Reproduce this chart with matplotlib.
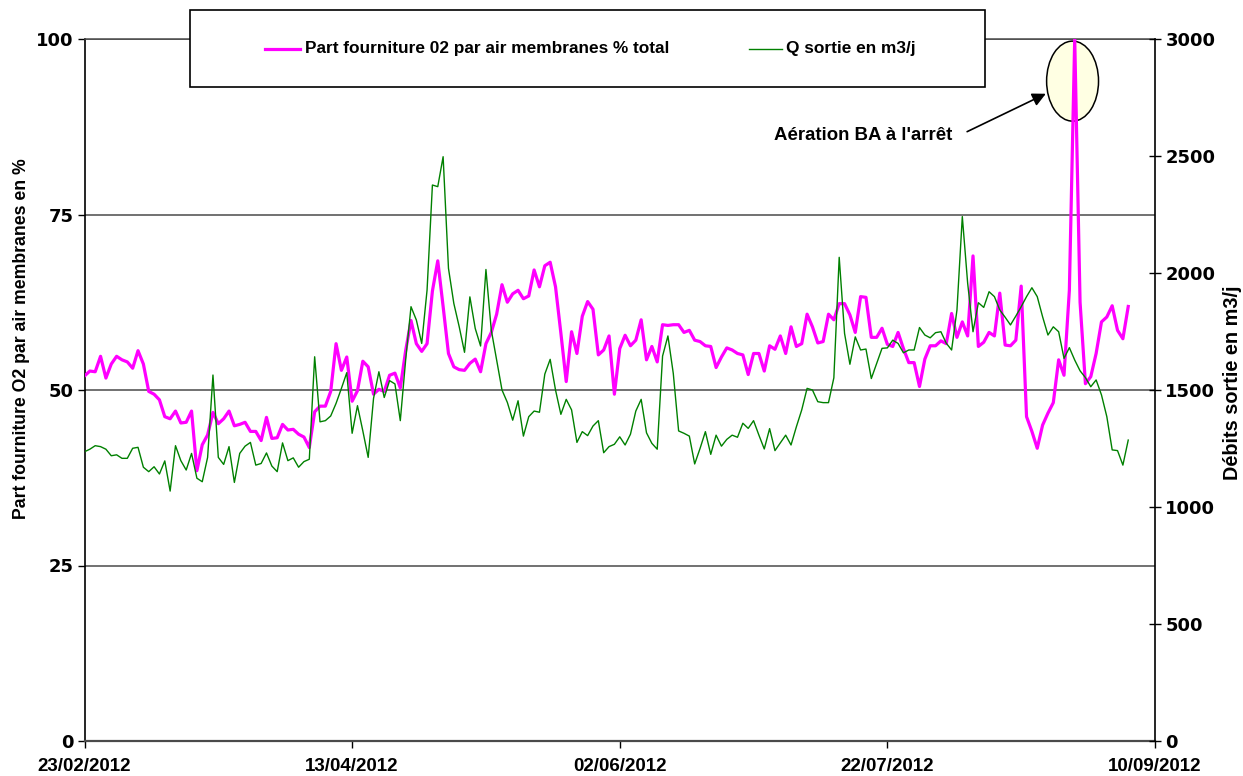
import matplotlib
matplotlib.use('Agg')
import matplotlib.pyplot as plt
import matplotlib.dates as mdates
from matplotlib.patches import Ellipse, Rectangle
from matplotlib.lines import Line2D
import pandas as pd

# ---------------- data ----------------
start_date = '2012-02-23'

part_o2 = [
    52.0, 52.7, 52.6, 54.8, 51.7, 53.7, 54.8, 54.3, 54.0, 53.1,
    55.6, 53.7, 49.8, 49.4, 48.6, 46.2, 45.9, 47.0, 45.3, 45.4,
    47.0, 38.5, 42.2, 43.6, 46.8, 45.2, 45.9, 47.0, 44.9, 45.1,
    45.4, 44.1, 44.1, 42.8, 46.1, 43.1, 43.2, 45.1, 44.3, 44.4,
    43.7, 43.3, 41.8, 46.9, 47.7, 47.7, 49.8, 56.6, 52.8, 54.7,
    48.4, 49.9, 54.1, 53.3, 49.4, 50.1, 49.8, 52.1, 52.4, 50.3,
    55.6, 59.9, 56.6, 55.5, 56.6, 64.1, 68.4, 61.9, 55.2, 53.3,
    52.9, 52.8, 53.8, 54.4, 52.6, 56.6, 58.2, 60.8, 65.0, 62.5,
    63.7, 64.2, 63.0, 63.4, 67.1, 64.7, 67.7, 68.2, 64.7, 58.1,
    51.2, 58.3, 55.2, 60.5, 62.6, 61.5, 55.0, 55.7, 57.7, 49.4,
    55.9, 57.8, 56.3, 57.1, 60.0, 54.3, 56.2, 54.0, 59.3, 59.2,
    59.3, 59.3, 58.2, 58.5, 57.1, 56.9, 56.3, 56.2, 53.2, 54.7,
    56.0, 55.7, 55.2, 55.0, 52.2, 55.2, 55.2, 52.7, 56.3, 55.8,
    57.7, 55.2, 59.0, 56.2, 56.6, 60.8, 59.0, 56.7, 56.9, 60.8,
    60.0, 62.3, 62.3, 60.7, 58.2, 63.3, 63.2, 57.5, 57.5, 58.8,
    56.5, 56.2, 58.2, 55.9, 53.9, 53.9, 50.5, 54.4, 56.3, 56.3,
    57.0, 56.6, 60.9, 57.5, 59.7, 57.7, 69.1, 56.2, 56.8, 58.2,
    57.7, 63.8, 56.4, 56.3, 57.1, 64.8, 46.2, 44.1, 41.7, 45.0,
    46.7, 48.2, 54.3, 52.1, 64.2, 100.0, 62.5, 50.9, 51.9, 55.2,
    59.7, 60.4, 62.0, 58.5, 57.3, 61.9,
]

q_sortie = [
    1236, 1247, 1262, 1258, 1247, 1219, 1223, 1208, 1208, 1251,
    1255, 1170, 1151, 1172, 1141, 1197, 1068, 1262, 1198, 1158,
    1229, 1123, 1108, 1212, 1564, 1212, 1182, 1258, 1105, 1229,
    1260, 1276, 1179, 1186, 1231, 1175, 1151, 1274, 1198, 1210,
    1170, 1194, 1204, 1642, 1364, 1369, 1389, 1443, 1507, 1574,
    1315, 1433, 1325, 1212, 1464, 1578, 1468, 1540, 1526, 1369,
    1628, 1856, 1799, 1699, 1927, 2376, 2369, 2497, 2020, 1870,
    1771, 1661, 1898, 1763, 1688, 2015, 1756, 1628, 1500, 1447,
    1371, 1454, 1303, 1386, 1410, 1405, 1568, 1631, 1500, 1396,
    1460, 1415, 1276, 1322, 1305, 1346, 1369, 1232, 1258, 1268,
    1300, 1265, 1311, 1410, 1460, 1317, 1272, 1247, 1645, 1731,
    1571, 1325, 1315, 1303, 1184, 1250, 1322, 1225, 1307, 1260,
    1289, 1307, 1298, 1358, 1336, 1369, 1307, 1248, 1335, 1241,
    1274, 1307, 1265, 1343, 1415, 1507, 1500, 1450, 1446, 1446,
    1552, 2067, 1742, 1610, 1727, 1671, 1675, 1549, 1613, 1678,
    1680, 1713, 1699, 1659, 1671, 1671, 1767, 1735, 1723, 1745,
    1749, 1700, 1671, 1842, 2241, 1956, 1749, 1873, 1853, 1920,
    1899, 1842, 1811, 1778, 1816, 1856, 1899, 1937, 1899, 1813,
    1735, 1770, 1749, 1635, 1681, 1628, 1582, 1553, 1514, 1543,
    1479, 1386, 1244, 1241, 1179, 1286,
]

tick_dates = ['2012-02-23', '2012-04-13', '2012-06-02', '2012-07-22', '2012-09-10']
left_ticks = [0, 25, 50, 75, 100]
right_ticks = [0, 500, 1000, 1500, 2000, 2500, 3000]

label_pink = 'Part fourniture 02 par air membranes % total'
label_green = 'Q sortie en m3/j'
ylabel_left = 'Part fourniture O2 par air membranes en %'
ylabel_right = 'Débits sortie en m3/j'
note_text = "Aération BA à l'arrêt"

dates = pd.date_range(start_date, periods=len(part_o2), freq='D')
tdates = pd.to_datetime(tick_dates)

# ---------------- figure ----------------
W, H = 1243, 776
fig = plt.figure(figsize=(W / 100, H / 100), dpi=100)
L, R, T, B = 84.5, 1155, 39, 741
ax = fig.add_axes([L / W, 1 - B / H, (R - L) / W, (B - T) / H])
ax2 = ax.twinx()

PINK = '#FF00FF'
GREEN = '#008000'
GRID = '#4a4a4a'

sans = ['Liberation Sans', 'DejaVu Sans']

ax.plot(dates, part_o2, color=PINK, lw=2.3, zorder=3, solid_joinstyle='round')
ax2.plot(dates, q_sortie, color=GREEN, lw=1.0, zorder=3)

ax.set_xlim(tdates[0], tdates[-1])
ax.set_ylim(0, 100)
ax2.set_ylim(0, 3000)

ax.set_yticks(left_ticks)
ax2.set_yticks(right_ticks)
ax.set_xticks(tdates)
ax.xaxis.set_major_formatter(mdates.DateFormatter('%d/%m/%Y'))

ax.yaxis.grid(True, color=GRID, lw=1.1)
ax.set_axisbelow(True)

ax.spines['left'].set_color('black'); ax.spines['left'].set_linewidth(1.2)
ax.spines['bottom'].set_color(GRID); ax.spines['bottom'].set_linewidth(1.6)
ax.spines['top'].set_color(GRID); ax.spines['top'].set_linewidth(1.1)
ax.spines['right'].set_visible(False)
for s in ['left', 'top', 'bottom']:
    ax2.spines[s].set_visible(False)
ax2.spines['right'].set_color('black'); ax2.spines['right'].set_linewidth(1.2)

ax.tick_params(axis='y', direction='out', length=5, width=1, pad=3)
ax2.tick_params(axis='y', direction='inout', length=9, width=1, pad=3)
ax.tick_params(axis='x', direction='out', length=5, width=1, pad=7)

for lab in ax.get_yticklabels() + ax2.get_yticklabels():
    lab.set_family('DejaVu Sans'); lab.set_fontweight('bold'); lab.set_fontsize(13)
for lab in ax.get_xticklabels():
    lab.set_family(sans); lab.set_fontweight('bold'); lab.set_fontsize(13.5)

# annotation ellipse + arrow + text
base = mdates.date2num(dates[0])
peak_idx = part_o2.index(max(part_o2))
xc = mdates.date2num(dates[peak_idx]) - 0.4
ell = Ellipse((xc, 94.0), width=9.7, height=11.4, facecolor='#FFFFE3',
              edgecolor='black', lw=1.1, zorder=2, clip_on=False)
ax.add_patch(ell)
ax.annotate('', xy=(base + 179.6, 92.2), xytext=(base + 164.9, 86.8),
            arrowprops=dict(arrowstyle='-|>', color='black', lw=1.2,
                            mutation_scale=20, shrinkA=0, shrinkB=0), zorder=4)
ax.text(base + 162.2, 86.3, note_text, ha='right', va='center',
        fontsize=13.4, fontweight='bold', family=sans, zorder=4)

# legend box (figure coordinates)
bx0, by0, bx1, by1 = 190, 10, 985, 87
fig.patches.append(Rectangle((bx0 / W, 1 - by1 / H), (bx1 - bx0) / W, (by1 - by0) / H,
                             transform=fig.transFigure, facecolor='white',
                             edgecolor='black', lw=1.2, zorder=5))
ly = 1 - 49 / H
fig.lines.append(Line2D([265 / W, 300 / W], [ly, ly], transform=fig.transFigure,
                        color=PINK, lw=2.3, zorder=6))
fig.text(305 / W, ly, label_pink, ha='left', va='center', fontsize=12.4,
         fontweight='bold', family=sans, zorder=6)
fig.lines.append(Line2D([749 / W, 782 / W], [ly, ly], transform=fig.transFigure,
                        color=GREEN, lw=1.0, zorder=6))
fig.text(786 / W, ly, label_green, ha='left', va='center', fontsize=12.4,
         fontweight='bold', family=sans, zorder=6)

# axis titles
fig.text(21.7 / W, 1 - 339 / H, ylabel_left, rotation=90, ha='center', va='center',
         fontsize=12.7, fontweight='bold', family=sans)
fig.text(1232 / W, 1 - 383 / H, ylabel_right, rotation=90, ha='center', va='center',
         fontsize=14.3, fontweight='bold', family=sans)

fig.savefig('out.png', dpi=100)
